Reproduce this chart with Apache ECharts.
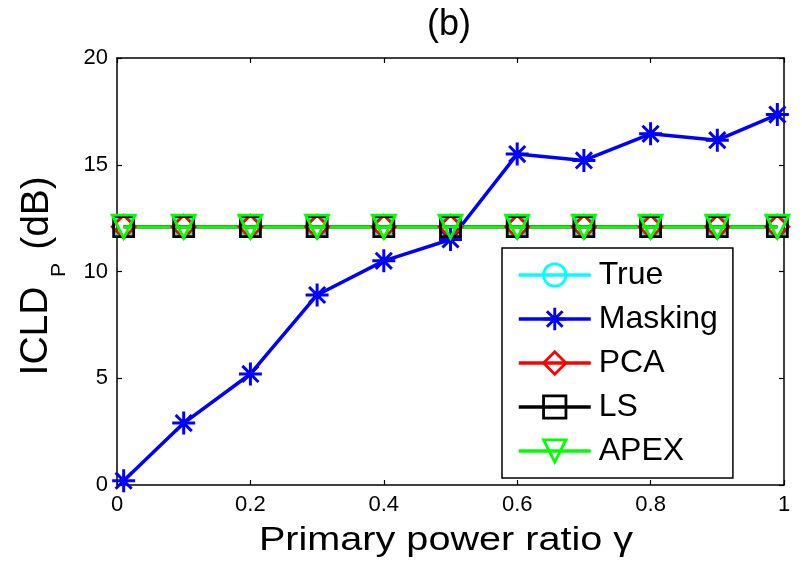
<!DOCTYPE html>
<html>
<head>
<meta charset="utf-8">
<script src="https://cdn.jsdelivr.net/npm/echarts@6/dist/echarts.min.js"></script>
<style>html,body{margin:0;padding:0;background:#fff}#c{width:802px;height:568px}</style>
</head>
<body>
<div id="c"></div>
<script>
const xVals = [0.01, 0.1, 0.2, 0.3, 0.4, 0.5, 0.6, 0.7, 0.8, 0.9, 0.99];
const trueVals = [12.1, 12.1, 12.1, 12.1, 12.1, 12.1, 12.1, 12.1, 12.1, 12.1, 12.1];
const maskingVals = [0.2, 2.9, 5.2, 8.9, 10.5, 11.5, 15.5, 15.2, 16.45, 16.15, 17.35];
const pcaVals = [12.1, 12.1, 12.1, 12.1, 12.1, 12.1, 12.1, 12.1, 12.1, 12.1, 12.1];
const lsVals = [12.1, 12.1, 12.1, 12.1, 12.1, 12.1, 12.1, 12.1, 12.1, 12.1, 12.1];
const apexVals = [12.1, 12.1, 12.1, 12.1, 12.1, 12.1, 12.1, 12.1, 12.1, 12.1, 12.1];
const seriesNames = ['True', 'Masking', 'PCA', 'LS', 'APEX'];
const xTicks = [0, 0.2, 0.4, 0.6, 0.8, 1];
const yTicks = [0, 5, 10, 15, 20];
const titleText = '(b)';
const xName = 'Primary power ratio \u03b3';
const yNameMain = 'ICLD';
const yNameSub = 'P';
const yNameUnit = '(dB)';

const FONT = 'Liberation Sans, Arial, sans-serif';
const asterisk = 'path://M0 8.7L20 8.7L20 11.3L0 11.3Z M8.7 0L11.3 0L11.3 20L8.7 20Z M3.92 2.08L17.92 16.08L16.08 17.92L2.08 3.92Z M2.08 16.08L16.08 2.08L17.92 3.92L3.92 17.92Z';

function pairs(vals) { return xVals.map((x, i) => [x, vals[i]]); }

function mk(name, vals, color, symbol, size, rotate, filled, lw) {
  return {
    name: name, type: 'line', data: pairs(vals),
    symbol: symbol, symbolSize: size, symbolRotate: rotate || 0,
    showAllSymbol: true,
    color: color,
    lineStyle: { color: color, width: lw || 3 },
    itemStyle: filled ? { color: color, borderWidth: 0 } : { color: 'rgba(0,0,0,0)', borderColor: color, borderWidth: 2.8 },
    emphasis: { disabled: true },
    animation: false
  };
}

function rotText(txt, x, y, size) {
  return {
    type: 'text', x: x, y: y, rotation: Math.PI / 2, silent: true,
    style: { text: txt, fontFamily: FONT, fontSize: size, fill: '#000',
      textAlign: 'center', textVerticalAlign: 'middle', align: 'center', verticalAlign: 'middle' }
  };
}

const chart = echarts.init(document.getElementById('c'));
function axLine() { return { show: true, onZero: false, lineStyle: { color: '#000', width: 1.5 } }; }
function axTick() { return { show: true, inside: true, length: 5, lineStyle: { color: '#000', width: 1.2 } }; }
chart.setOption({
  backgroundColor: '#fff',
  animation: false,
  grid: { left: 117, right: 18, top: 58, bottom: 83 },
  legend: {
    orient: 'vertical', left: 502, top: 248,
    padding: [11, 15, 11, 15],
    itemGap: 12, itemWidth: 72, itemHeight: 28,
    borderColor: '#000', borderWidth: 1.5, backgroundColor: '#fff',
    data: seriesNames,
    lineStyle: { width: 3.5 },
    itemStyle: { borderWidth: 2.8 },
    textStyle: { fontFamily: FONT, fontSize: 32, color: '#000', padding: [0, 0, 0, 3] }
  },
  graphic: [
    { type: 'text', x: 449, y: 25, silent: true,
      style: { text: titleText, fontFamily: FONT, fontSize: 36, fill: '#000',
        textAlign: 'center', textVerticalAlign: 'middle', align: 'center', verticalAlign: 'middle' } },
    { type: 'text', x: 446, y: 541, scaleX: 1.2, silent: true,
      style: { text: xName, fontFamily: FONT, fontSize: 33, fill: '#000',
        textAlign: 'center', textVerticalAlign: 'middle', align: 'center', verticalAlign: 'middle' } },
    rotText(yNameMain, 36, 331, 39),
    rotText(yNameSub, 59, 270, 21),
    rotText(yNameUnit, 37, 213, 39)
  ],
  xAxis: [{
    type: 'value', min: 0, max: 1, interval: 0.2,
    axisLine: axLine(), axisTick: axTick(),
    axisLabel: { fontFamily: FONT, fontSize: 22, color: '#000', margin: 9,
      formatter: v => xTicks.includes(Math.round(v * 10) / 10) ? String(Math.round(v * 10) / 10) : '' },
    splitLine: { show: false }
  }, {
    type: 'value', min: 0, max: 1, interval: 0.2, position: 'top',
    axisLine: axLine(), axisTick: axTick(),
    axisLabel: { show: false }, splitLine: { show: false }
  }],
  yAxis: [{
    type: 'value', min: 0, max: 20, interval: 5,
    axisLine: axLine(), axisTick: axTick(),
    axisLabel: { fontFamily: FONT, fontSize: 22, color: '#000', margin: 9,
      formatter: v => yTicks.includes(v) ? String(v) : '' },
    splitLine: { show: false }
  }, {
    type: 'value', min: 0, max: 20, interval: 5, position: 'right',
    axisLine: axLine(), axisTick: axTick(),
    axisLabel: { show: false }, splitLine: { show: false }
  }],
  series: [
    mk('True', trueVals, '#00ffff', 'circle', 21, 0, false),
    mk('Masking', maskingVals, '#0000ff', asterisk, 23, 0, true, 3.5),
    mk('PCA', pcaVals, '#ff0000', 'diamond', 23, 0, false),
    mk('LS', lsVals, '#000000', 'rect', 20, 0, false),
    mk('APEX', apexVals, '#00ff00', 'triangle', 23, 180, false)
  ]
});
</script>
</body>
</html>
